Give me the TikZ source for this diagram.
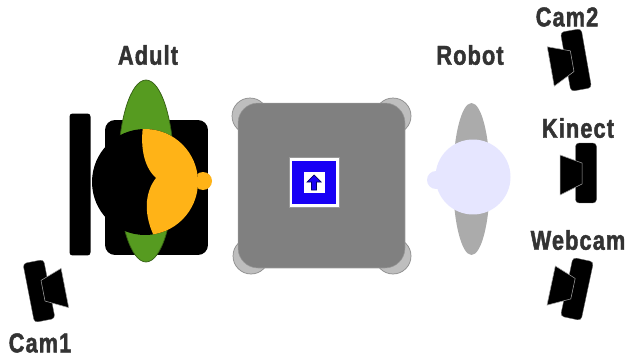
\documentclass[tikz,border=0pt]{standalone}
\usepackage{fontspec}
\usepackage{xcolor}
\usepackage{tikz}
\usetikzlibrary{shapes.geometric, positioning, calc}
\newfontfamily\tagfont[FakeStretch=0.8, LetterSpace=4, BoldFeatures={FakeBold=1.6}]{Liberation Sans}
\definecolor{tagtext}{HTML}{333333}
\definecolor{adultgreen}{HTML}{569B20}
\definecolor{adultface}{HTML}{FFB317}
\definecolor{robotbody}{HTML}{ABABAB}
\definecolor{robothead}{HTML}{E6E6FF}
\definecolor{tablegray}{HTML}{808080}
\definecolor{leggray}{HTML}{BEBEBE}
\definecolor{markerblue}{HTML}{1800F5}

\tikzset{
    tag/.style={font=\tagfont\bfseries\fontsize{15.5}{15.5}\selectfont, text=tagtext, inner sep=0pt},
    blob/.style={inner sep=0pt, outer sep=0pt},
    cambar/.style={blob, fill=black, draw=black!60, line width=0.2pt, rounded corners=0.7mm,
        minimum width=0.42cm, minimum height=1.2cm},
    camlens/.style={fill=black, draw=black!35, line width=0.3pt},
    camera/.pic={
        \node[cambar, transform shape] (-bar) at (0,0) {};
        \filldraw[camlens] (-26,-18) -- (-4,-10) -- (-4,11) -- (-26,22) -- cycle;
    }
}

\begin{document}
\begin{tikzpicture}[x=0.02cm, y=-0.02cm]
    \useasboundingbox[fill=white] (0,0) rectangle (634,358);

    % adult on the chair
    \node[blob, fill=black, rounded corners=0.6mm, minimum width=0.42cm, minimum height=2.84cm] (backrest) at (80,184.5) {};
    \node[blob, fill=black, rounded corners=2mm, minimum width=2.06cm, minimum height=2.7cm] (seat) at (156.5,187.5) {};
    \node[blob, ellipse, fill=adultgreen, draw=adultgreen!60!black, line width=0.4pt,
        minimum width=1.12cm, minimum height=3.64cm] (body) at (146,171) {};
    \node[blob, circle, fill=adultface, minimum size=0.36cm] (nose) at (203,181) {};
    \node[blob, circle, fill=black, minimum size=2.12cm] (head) at (145,182) {};
    \begin{scope}
        \clip (head.center) circle[radius=1.06cm];
        \fill[adultface] (143,126) .. controls (140,150) and (145,168) .. (156,178)
            .. controls (145,192) and (142,215) .. (157,242) -- (215,242) -- (215,120) -- cycle;
    \end{scope}

    % table with its legs
    \foreach \p/\n in {(250,116)/a, (393,116)/b, (251,256)/c, (393,256)/d}
        \node[blob, circle, fill=leggray, draw=black!45, line width=0.4pt, minimum size=0.72cm] (leg\n) at \p {};
    \node[blob, fill=tablegray, draw=black!40, line width=0.3pt, rounded corners=4mm,
        minimum width=3.34cm, minimum height=3.3cm] (table) at (321.5,185.5) {};

    % marker
    \node[blob, fill=white, draw=black!40, line width=0.3pt, minimum size=1cm] (marker) at (314,182.5) {};
    \node[blob, fill=markerblue, minimum size=0.88cm] (markerin) at (marker) {};
    \node[blob, fill=white, minimum size=0.42cm] (markerhole) at (markerin) {};
    \filldraw[markerblue, draw=blue!40!black, line width=0.4pt]
        (311.5,190) -- (311.5,182) -- (307,182) -- (314,175) -- (321,182) -- (316.5,182) -- (316.5,190) -- cycle;

    % robot
    \node[blob, ellipse, fill=robotbody, minimum width=0.74cm, minimum height=3.04cm] (rbody) at (471.5,179) {};
    \node[blob, circle, fill=robothead, minimum size=0.36cm] (rnose) at (436,180) {};
    \node[blob, circle, fill=robothead, minimum size=1.5cm] (rhead) at (473,177) {};

    % cameras
    \pic[rotate=10] (camtwo) at (576,60) {camera};
    \pic (kinect) at (586,173) {camera};
    \pic[rotate=-12] (webcam) at (577,289) {camera};
    \pic[rotate=11, xscale=-1] (camone) at (39,291) {camera};

    % labels
    \node[tag] (adultlbl) at (148,55) {Adult};
    \node[tag] (robotlbl) at (470,55) {Robot};
    \node[tag] (camtwolbl) at (567,17) {Cam2};
    \node[tag] (kinectlbl) at (578,128) {Kinect};
    \node[tag] (webcamlbl) at (578,240) {Webcam};
    \node[tag] (camonelbl) at (40,343) {Cam1};
\end{tikzpicture}
\end{document}
